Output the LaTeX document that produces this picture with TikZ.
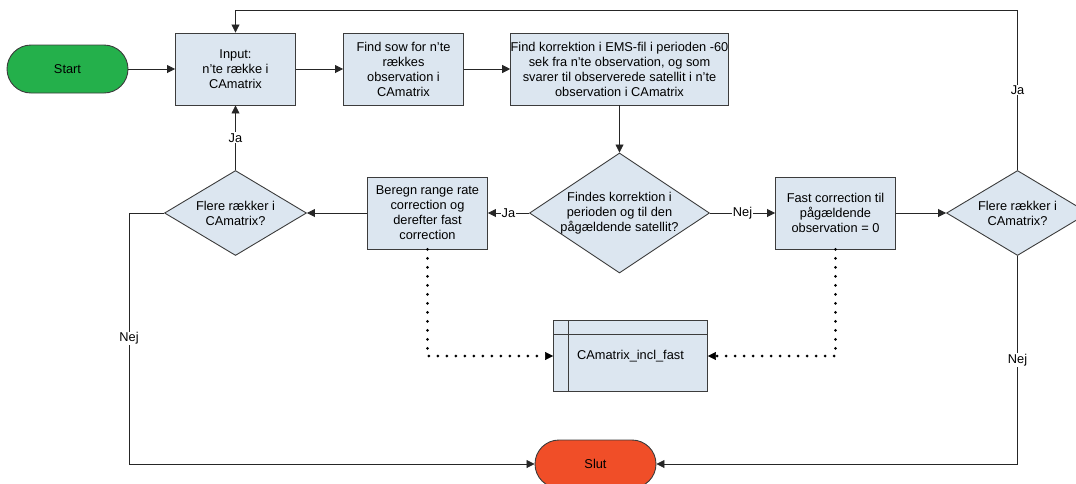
\documentclass[tikz,border=0pt]{standalone}
\usepackage{fontspec}
\setmainfont{Liberation Sans}
\usetikzlibrary{arrows.meta,shapes.geometric}

\definecolor{boxfill}{RGB}{220,230,240}
\definecolor{boxline}{RGB}{60,60,60}
\definecolor{startfill}{RGB}{36,176,75}
\definecolor{stopfill}{RGB}{240,78,40}

\tikzstyle{startstop} = [rectangle, rounded corners=24pt, minimum width=121pt, minimum height=48pt, text centered, draw=boxline, line width=0.9pt]
\tikzstyle{process} = [rectangle, minimum width=120pt, minimum height=72pt, inner sep=2pt, align=center, draw=boxline, line width=0.9pt, fill=boxfill]
\tikzstyle{decision} = [diamond, shape aspect=1.5, minimum width=142pt, minimum height=85pt, inner sep=-6pt, align=center, draw=boxline, line width=0.9pt, fill=boxfill]
\tikzstyle{datastore} = [rectangle, minimum width=154pt, minimum height=71pt, draw=boxline, line width=0.9pt, fill=boxfill,
    path picture={
        \draw [boxline, line width=0.9pt] ([xshift=15pt]path picture bounding box.north west) -- ([xshift=15pt]path picture bounding box.south west);
        \draw [boxline, line width=0.9pt] ([yshift=-14pt]path picture bounding box.north west) -- ([yshift=-14pt]path picture bounding box.north east);
    }]
\tikzstyle{arrow} = [-{Triangle[length=8pt,width=8pt]}, draw=black!85, line width=0.8pt]
\tikzstyle{dotarrow} = [-{Triangle[length=8pt,width=8pt,line width=0.5pt]}, draw=black, line width=3pt, dash pattern=on 0pt off 9pt, line cap=round]
\tikzstyle{lbl} = [fill=white, inner sep=1pt]

\begin{document}
\begin{tikzpicture}[node distance=168pt, x=1pt, y=1pt, font=\fontsize{12.8pt}{15pt}\selectfont]
    \useasboundingbox (0,0) rectangle (1076,-483);

    % top row
    \node (start) [startstop, fill=startfill] at (67.5,-69) {Start};
    \node (input) [process, right of=start] {Input:\\n'te række i\\CAmatrix};
    \node (sow)   [process, right of=input] {Find sow for n'te\\rækkes\\observation i\\CAmatrix};
    \node (korr)  [process, right of=sow, xshift=48pt, minimum width=217pt, inner sep=0pt] {Find korrektion i EMS-fil i perioden -60\\sek fra n'te observation, og som\\svarer til observerede satellit i n'te\\observation i CAmatrix};

    % middle row
    \node (dec)    [decision, below of=korr, yshift=24pt, minimum width=180pt, minimum height=120pt] {Findes korrektion i\\perioden og til den\\pågældende satellit?};
    \node (beregn) [process, left of=dec, xshift=-24pt] {Beregn range rate\\correction og\\derefter fast\\correction};
    \node (flere1) [decision, left of=beregn, xshift=-24pt] {Flere rækker i\\CAmatrix?};
    \node (fast)   [process, right of=dec, xshift=48pt] {Fast correction til\\pågældende\\observation = 0};
    \node (flere2) [decision, right of=fast, xshift=14pt] {Flere rækker i\\CAmatrix?};

    % bottom
    \node (camat) [datastore, below of=dec, yshift=25pt, xshift=11pt] {CAmatrix\_incl\_fast};
    \node (slut)  [startstop, fill=stopfill, below of=camat, yshift=60pt, xshift=-35pt] {Slut};

    \coordinate (loop) at (0,-10);
    \coordinate (rail) at (129,0);

    \draw [arrow] (start) -- (input);
    \draw [arrow] (input) -- (sow);
    \draw [arrow] (sow) -- (korr);
    \draw [arrow] (korr) -- (dec);
    \draw [arrow] (dec) -- node [lbl] {Ja} (beregn);
    \draw [arrow] (beregn) -- (flere1);
    \draw [arrow] (flere1) -- node [lbl] {Ja} (input);
    \draw [arrow] (dec) -- node [lbl] {Nej} (fast);
    \draw [arrow] (fast) -- (flere2);
    \draw [arrow] (flere2.north) -- node [lbl] {Ja} (flere2.north |- loop) -| (input.north);
    \draw [arrow] (flere1.west) -| node [lbl, pos=0.75] {Nej} (rail |- slut) -- (slut.west);
    \draw [arrow] (flere2.south) |- node [lbl, pos=0.25] {Nej} (slut.east);

    \draw [dotarrow] (beregn.south) |- (camat.west);
    \draw [dotarrow] (fast.south) |- (camat.east);
\end{tikzpicture}
\end{document}
